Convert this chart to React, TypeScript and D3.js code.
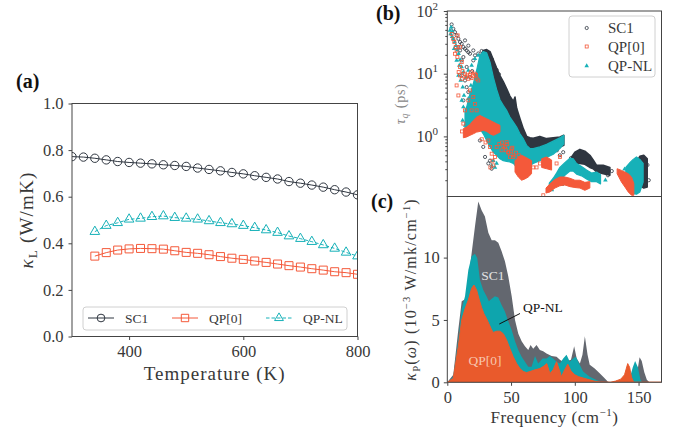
import React, { useEffect, useRef } from "react";
import * as d3 from "d3";

const SERIF = "'Liberation Serif', 'DejaVu Serif', serif";
const AXIS = "#444";
const INK = "#383838";
const DARK = "#2f3640";
const ORANGE = "#f4593a";
const TEAL = "#17b1b8";
const FILL_GRAY = "#63676f";
const FILL_TEAL = "#0ea5ad";
const FILL_ORANGE = "#e95a2c";

// ---------- (a) kappa_L vs temperature
const temperatures = [300, 320, 340, 360, 380, 400, 420, 440, 460, 480, 500, 520, 540, 560, 580, 600, 620, 640, 660, 680, 700, 720, 740, 760, 780, 800];
const qpTemperatures = [340, 360, 380, 400, 420, 440, 460, 480, 500, 520, 540, 560, 580, 600, 620, 640, 660, 680, 700, 720, 740, 760, 780, 800];
const sc1Kappa = [0.772, 0.770, 0.765, 0.758, 0.751, 0.747, 0.744, 0.741, 0.737, 0.734, 0.730, 0.723, 0.717, 0.711, 0.704, 0.698, 0.690, 0.683, 0.676, 0.665, 0.658, 0.650, 0.641, 0.630, 0.620, 0.608];
const qp0Kappa = [0.345, 0.360, 0.371, 0.376, 0.378, 0.377, 0.375, 0.368, 0.361, 0.357, 0.351, 0.343, 0.336, 0.331, 0.324, 0.318, 0.311, 0.304, 0.298, 0.291, 0.285, 0.278, 0.274, 0.267];
const qpnlKappa = [0.450, 0.476, 0.488, 0.503, 0.507, 0.514, 0.517, 0.510, 0.507, 0.503, 0.496, 0.488, 0.483, 0.476, 0.467, 0.457, 0.446, 0.431, 0.420, 0.407, 0.393, 0.378, 0.361, 0.345];
const kappaTicks = [0, 0.2, 0.4, 0.6, 0.8, 1.0];
const tempTicks = [400, 600, 800];
const seriesNames = ["SC1", "QP[0]", "QP-NL"];

// ---------- (b) lifetimes tau_q (ps) vs frequency (cm^-1)
// dense clouds: [freq, tauMin, tauMax]
const sc1BandMain = [[26.9, 6.9, 20.8], [28.2, 4.8, 23.5], [30.9, 3.75, 24.2], [33.5, 2.94, 22.5], [36.1, 2.3, 16.7], [38.7, 1.8, 12.3], [41.3, 1.41, 9.3], [43.9, 1.1, 7.5], [46.5, 0.98, 5.8], [49.1, 0.86, 4.4], [51.8, 0.76, 3.6], [53.1, 0.745, 4.24], [54.4, 0.72, 2.8], [57.0, 0.68, 1.91], [59.6, 0.64, 1.33], [62.2, 0.62, 1.0], [64.8, 0.62, 0.95], [67.4, 0.62, 0.93], [72.6, 0.64, 1.0], [77.9, 0.64, 0.92], [83.1, 0.64, 0.95], [88.3, 0.68, 0.98], [91.4, 0.72, 1.04]];
const sc1BandHump = [[97.5, 0.41, 0.47], [100.1, 0.37, 0.56], [104.0, 0.37, 0.62], [107.9, 0.36, 0.58], [111.8, 0.32, 0.5], [114.4, 0.305, 0.42], [117.1, 0.27, 0.345], [122.3, 0.254, 0.345], [127.5, 0.24, 0.32]];
const sc1BandHigh = [[147.8, 0.2, 0.37], [151.0, 0.166, 0.48], [154.1, 0.15, 0.5], [156.8, 0.156, 0.44]];
const qpnlBandMain = [[13.9, 1.25, 2.6], [15.2, 1.2, 2.94], [17.8, 1.25, 4.8], [20.4, 1.33, 6.9], [23.0, 1.41, 11.3], [25.6, 1.33, 19.6], [28.2, 1.1, 22.6], [30.9, 0.86, 21.5], [33.5, 0.68, 15.3], [36.1, 0.56, 8.8], [38.7, 0.5, 5.6], [41.3, 0.44, 3.85], [43.9, 0.41, 3.12], [46.5, 0.4, 2.6], [49.1, 0.39, 2.03], [51.8, 0.37, 1.69], [54.4, 0.32, 1.41], [57.0, 0.287, 1.1], [59.6, 0.305, 0.92], [62.2, 0.32, 0.72], [64.8, 0.345, 0.64], [67.4, 0.37, 0.64], [72.6, 0.41, 0.68], [77.9, 0.46, 0.745], [83.1, 0.52, 0.84], [88.3, 0.64, 0.95], [91.4, 0.76, 1.04]];
const qpnlBandMid = [[80.0, 0.15, 0.18], [83.1, 0.155, 0.215], [85.7, 0.175, 0.26], [88.3, 0.2, 0.32], [92.2, 0.24, 0.38], [96.2, 0.28, 0.45], [98.8, 0.28, 0.44], [101.4, 0.25, 0.37], [105.3, 0.235, 0.33], [109.2, 0.21, 0.29], [113.1, 0.19, 0.26], [117.1, 0.19, 0.27], [120.2, 0.175, 0.245]];
const qpnlBandHigh = [[140.0, 0.225, 0.32], [143.2, 0.156, 0.38], [145.8, 0.122, 0.43], [148.4, 0.12, 0.47], [151.0, 0.13, 0.43], [153.6, 0.187, 0.37]];
const qp0BandLow = [[12.6, 0.95, 1.33], [15.2, 0.98, 1.41], [17.8, 1.04, 1.55], [20.4, 1.1, 1.8], [23.0, 1.17, 2.03], [25.6, 1.2, 2.16], [28.2, 1.25, 2.03], [30.9, 1.2, 1.91], [33.5, 1.1, 1.8], [36.1, 1.04, 1.69], [38.7, 1.1, 1.59], [41.3, 1.17, 1.5]];
const qp0BandMid = [[53.1, 0.27, 0.41], [55.7, 0.225, 0.47], [58.3, 0.2, 0.5], [60.9, 0.21, 0.47], [63.5, 0.225, 0.44], [66.1, 0.254, 0.41]];
const qp0BandShelf = [[74.0, 0.32, 0.44], [77.9, 0.305, 0.47], [81.8, 0.29, 0.42]];
const qp0BandLowFreq = [[77.4, 0.125, 0.15], [80.5, 0.13, 0.175], [84.4, 0.15, 0.205], [88.3, 0.163, 0.225], [92.2, 0.168, 0.225], [96.2, 0.158, 0.215], [100.1, 0.153, 0.2], [104.0, 0.15, 0.2], [107.9, 0.138, 0.185], [111.8, 0.15, 0.19]];
const qp0BandHigh = [[133.2, 0.254, 0.305], [136.6, 0.187, 0.287], [139.3, 0.156, 0.27], [141.9, 0.13, 0.254], [144.5, 0.115, 0.225], [146.3, 0.115, 0.176]];

// sparse points: [freq, tau]
const sc1Points = [[3.4, 61], [4.7, 52], [6.0, 46], [7.3, 41], [8.7, 36], [10.0, 32], [11.3, 30], [12.6, 26.6], [13.9, 25], [15.2, 23.5], [16.5, 22], [17.8, 20.8], [10, 23.5], [12.6, 18.4], [15.2, 12.8], [11.3, 16.3], [8.7, 26.6], [13.9, 34], [16.5, 28], [20.4, 23.5], [21.7, 19.6], [20.4, 16.3], [11.3, 9.4], [13.9, 7.8], [15.2, 6.1], [16.5, 5.1], [12.6, 3.75], [17.8, 8.8], [19.1, 3.3], [21.7, 2.0], [24.3, 1.41], [25.6, 0.86], [28.2, 0.68], [29.6, 0.47], [32.2, 0.37], [34.8, 0.305], [33.5, 0.41], [38.7, 11.5], [40.5, 9.8], [42, 7.0], [35, 17], [24.3, 21], [26.9, 23], [88.3, 0.5], [90.9, 0.56], [86, 0.6], [97, 0.45], [126, 0.24], [129, 0.28], [158, 0.2], [157, 0.35], [22.5, 5.5], [24, 3.8], [26, 2.6], [23, 8], [19.5, 11], [30, 1.2], [32, 0.9]];
const qp0Points = [[3.4, 43], [4.7, 36], [5.5, 32], [6.6, 26.6], [7.3, 23.5], [6, 20.8], [7.9, 18.4], [10, 12.8], [8.9, 10.6], [10, 9.4], [7.3, 6.5], [8.7, 4.5], [11.3, 8.3], [13.9, 10], [15.2, 9.4], [17.8, 9.7], [20.4, 9.1], [23, 8.3], [16.5, 8.3], [21.7, 10], [24.3, 7.8], [17.8, 5.4], [20.4, 4.24], [21.7, 3.3], [16.5, 3.75], [23, 2.6], [13.9, 2.6], [19.1, 2.6], [32.2, 0.86], [33.5, 0.68], [34.8, 0.53], [35.4, 0.41], [33.8, 0.32], [36.1, 0.345], [37.4, 0.47], [38.7, 0.68], [40.8, 0.76], [42.6, 0.6], [45.2, 0.68], [47.8, 0.56], [46.5, 0.81], [50.4, 0.64], [51.8, 0.47], [49.1, 0.47], [70, 0.32], [72.6, 0.37], [67.4, 0.32], [85.7, 0.37], [88.3, 0.47], [75.3, 0.115], [8.1, 40.8], [10, 26.6], [11.3, 15.3], [12, 11], [14.5, 8.8], [19, 8.5], [22.5, 9.5], [18.5, 10.5], [12.6, 1.6], [11.5, 1.2], [27, 0.9], [30, 0.8], [44, 0.7], [46, 0.6], [48, 0.55], [50, 0.58], [52, 0.5], [54, 0.55], [56, 0.5], [43, 0.8], [47, 0.75], [51, 0.66]];
const qpnlPoints = [[2.1, 49], [2.6, 43], [3.7, 39], [4.7, 36], [5.8, 32], [6.8, 28], [7.9, 24], [8.9, 20.8], [5.3, 25], [7.3, 16.3], [9.4, 13.6], [10, 16.6], [11.3, 12.8], [12.6, 10.6], [8.7, 9.4], [10.5, 7.8], [12.1, 6.1], [13.1, 4.5], [11.3, 3.75], [12.6, 2.94], [14.7, 8.8], [16.5, 11.3], [19.1, 13.6], [21.7, 17.3], [24.3, 19.6], [36.1, 0.41], [37.4, 0.32], [34.8, 0.345], [38.7, 0.37], [3, 55], [4, 47], [14, 1.5], [12, 1.8], [16.5, 4], [18.5, 6.5], [82, 0.14], [90, 0.17], [124, 0.2], [139, 0.3]];
const tauExponents = [0, 1, 2];

// ---------- (c) spectral kappa_P(omega) (1e-3 W/mK/cm^-1) vs frequency
const sc1Spectrum = [[0, 0], [4.7, 0.6], [8.6, 4.2], [11.3, 6.5], [14.6, 6.7], [17.8, 9.3], [21.7, 12.5], [24.3, 14.5], [26.9, 13.8], [29.5, 13.3], [32.2, 12.0], [34.8, 11.4], [37.4, 11.4], [40.0, 11.2], [42.6, 10.5], [45.2, 9.7], [47.8, 8.5], [50.5, 6.9], [53.1, 5.0], [55.7, 3.9], [58.3, 3.3], [60.9, 2.9], [63.5, 2.6], [65.3, 3.0], [67.4, 2.7], [70, 3.0], [72.6, 2.6], [75.2, 2.5], [77.8, 2.3], [81.8, 2.1], [85.7, 2.05], [88.3, 1.8], [91.4, 1.6], [94, 1.7], [97, 1.8], [99.5, 2.9], [101.5, 1.9], [104, 1.5], [106, 2.2], [107.9, 3.7], [110, 2.2], [111.7, 1.4], [115.6, 1.1], [119.5, 0.72], [123.4, 0.32], [126, 0.05], [128, 0], [146.5, 0], [148.5, 0.5], [150.8, 2.0], [152.5, 1.7], [154.5, 0.8], [156.5, 0.2], [158.5, 0], [168, 0]];
const qpnlSpectrum = [[0, 0], [4.7, 0.45], [8.6, 3.4], [11.3, 5.9], [13.9, 6.9], [16.5, 9.0], [19.1, 10.1], [21.7, 10.3], [23.5, 9.96], [25.6, 8.2], [28.2, 7.4], [30.8, 6.9], [32.6, 6.5], [34.8, 6.7], [37.4, 6.9], [40, 6.8], [42.6, 6.2], [45.2, 5.67], [47.8, 4.9], [50.5, 4.2], [53.1, 3.3], [55.7, 2.6], [58.3, 2.05], [60.9, 1.65], [63.5, 1.25], [66.1, 1.25], [68.8, 2.1], [71.3, 1.5], [74.7, 1.9], [77.8, 1.9], [80.4, 2.1], [83, 1.9], [85.7, 1.65], [88.3, 1.5], [90.9, 1.9], [93.5, 2.2], [96.1, 1.65], [98.7, 1.9], [100.8, 2.05], [103.4, 1.5], [106.5, 0.86], [111.7, 0.45], [117, 0.19], [121, 0], [140.5, 0], [143, 0.3], [145.5, 1.2], [147.3, 1.7], [149.5, 1.2], [151.5, 0.2], [153, 0], [168, 0]];
const qp0Spectrum = [[0, 0], [4.7, 0.32], [8.6, 2.86], [11.3, 5.0], [13.9, 5.9], [16.5, 6.6], [19.1, 7.54], [20.9, 7.8], [23, 7.4], [25.1, 6.6], [26.9, 6.0], [28.7, 5.5], [30.8, 5.1], [32.6, 4.7], [34.8, 4.2], [36.1, 4.0], [38.7, 4.1], [41.3, 4.1], [43.9, 3.9], [46.5, 3.4], [49.1, 2.7], [51.7, 2.05], [54.4, 1.5], [57, 1.1], [59.6, 0.86], [62.2, 0.78], [64.8, 0.86], [68.8, 1.0], [72.6, 1.1], [75.8, 1.3], [78, 1.5], [80.5, 0.7], [83, 1.0], [85.7, 1.65], [87.5, 1.1], [89.6, 0.45], [92, 1.0], [94.5, 1.45], [97, 0.9], [100, 0.6], [103, 0.45], [108, 0.3], [115, 0.1], [120, 0.02], [125, 0], [128, 0], [132, 0.1], [136, 0.25], [139, 0.6], [141.5, 1.5], [143, 1.2], [144.5, 0.4], [146, 0.05], [147, 0], [168, 0]];
const freqTicks = [0, 50, 100, 150];
const spectrumTicks = [0, 5, 10];

function styleAxis(g, size) {
  g.select(".domain").remove();
  g.attr("font-family", SERIF).attr("font-size", size);
  g.selectAll(".tick line").attr("stroke", AXIS);
  g.selectAll(".tick text").attr("fill", INK);
}

function marker(kind, scale) {
  if (kind === "circle") return d3.symbol(d3.symbolCircle, 55 * scale)();
  if (kind === "square") return d3.symbol(d3.symbolSquare, 64 * scale)();
  return d3.symbol(d3.symbolTriangle, 40 * scale)();
}

function drawPanelA(svg) {
  const L = 72, R = 357.5, T = 103.5, B = 336.5;
  const x = d3.scaleLinear().domain([300, 800]).range([L, R]);
  const y = d3.scaleLinear().domain([0, 1]).range([B, T]);

  svg.append("clipPath").attr("id", "clipA").append("rect")
    .attr("x", L).attr("y", T).attr("width", R - L).attr("height", B - T);

  const series = [
    { t: temperatures, v: sc1Kappa, color: DARK, kind: "circle", dash: null },
    { t: qpTemperatures, v: qp0Kappa, color: ORANGE, kind: "square", dash: null },
    { t: qpTemperatures, v: qpnlKappa, color: TEAL, kind: "triangle", dash: "3.5,2" },
  ];

  const plot = svg.append("g").attr("clip-path", "url(#clipA)");
  series.forEach((s) => {
    const pts = s.t.map((t, i) => [t, s.v[i]]);
    plot.append("path").datum(pts)
      .attr("d", d3.line().x((d) => x(d[0])).y((d) => y(d[1])))
      .attr("fill", "none").attr("stroke", s.color).attr("stroke-width", 1)
      .attr("stroke-dasharray", s.dash);
    plot.selectAll(null).data(pts).enter().append("path")
      .attr("transform", (d) => `translate(${x(d[0])},${y(d[1])})`)
      .attr("d", marker(s.kind, 1))
      .attr("fill", "none").attr("stroke", s.color).attr("stroke-width", 1);
  });

  const ya = svg.append("g").attr("transform", `translate(${L},0)`)
    .call(d3.axisLeft(y).tickValues(kappaTicks).tickSize(3.5).tickPadding(5).tickFormat(d3.format(".1f")));
  styleAxis(ya, 16.5);
  const xa = svg.append("g").attr("transform", `translate(0,${B})`)
    .call(d3.axisBottom(x).tickValues(tempTicks).tickSize(3.5).tickPadding(5));
  styleAxis(xa, 16.5);

  svg.append("rect").attr("x", L).attr("y", T).attr("width", R - L).attr("height", B - T)
    .attr("fill", "none").attr("stroke", AXIS).attr("stroke-width", 1);

  // legend
  const lg = svg.append("g");
  lg.append("rect").attr("x", 83).attr("y", 307).attr("width", 264).attr("height", 23).attr("rx", 3)
    .attr("fill", "#fff").attr("fill-opacity", 0.8).attr("stroke", "#d0d0d0");
  const lx = [88, 172, 266];
  series.forEach((s, i) => {
    const cy = 318;
    lg.append("line").attr("x1", lx[i]).attr("x2", lx[i] + 26).attr("y1", cy).attr("y2", cy)
      .attr("stroke", s.color).attr("stroke-dasharray", s.dash);
    lg.append("path").attr("transform", `translate(${lx[i] + 13},${cy})`).attr("d", marker(s.kind, 0.85))
      .attr("fill", "none").attr("stroke", s.color);
    lg.append("text").attr("x", lx[i] + 37).attr("y", cy + 4.5).attr("font-family", SERIF)
      .attr("font-size", 13.5).attr("fill", INK).text(seriesNames[i]);
  });

  svg.append("text").attr("x", (L + R) / 2).attr("y", 380).attr("text-anchor", "middle")
    .attr("font-family", SERIF).attr("font-size", 19).attr("letter-spacing", 1).attr("fill", INK)
    .text("Temperature (K)");
  const yl = svg.append("text").attr("transform", `translate(33,${(T + B) / 2}) rotate(-90)`)
    .attr("text-anchor", "middle").attr("font-family", SERIF).attr("font-size", 19).attr("fill", INK)
    .attr("letter-spacing", 1.2);
  yl.append("tspan").attr("font-style", "italic").text("κ");
  yl.append("tspan").attr("font-size", 13).attr("dy", 4).text("L");
  yl.append("tspan").attr("dy", -4).text(" (W/mK)");

  svg.append("text").attr("x", 16).attr("y", 88).attr("font-family", SERIF).attr("font-weight", "bold")
    .attr("font-size", 20).attr("fill", "#111").text("(a)");
}

function drawPanelB(svg, x) {
  const L = 447.3, R = 661.5, T = 11, B = 196.5;
  const y = d3.scaleLog().domain([0.11, 100]).range([B, T]);

  svg.append("clipPath").attr("id", "clipB").append("rect")
    .attr("x", L).attr("y", T).attr("width", R - L).attr("height", B - T);
  const plot = svg.append("g").attr("clip-path", "url(#clipB)");

  const band = d3.area().x((d) => x(d[0])).y0((d) => y(d[1])).y1((d) => y(d[2]));
  const drawBands = (bands, color, edge) => {
    plot.selectAll(null).data(bands).enter().append("path").attr("d", band)
      .attr("fill", color).attr("stroke", color).attr("stroke-width", edge).attr("stroke-linejoin", "round");
  };

  drawBands([sc1BandMain, sc1BandHump, sc1BandHigh], DARK, 1.6);
  plot.selectAll(null).data(sc1Points).enter().append("circle")
    .attr("cx", (d) => x(d[0])).attr("cy", (d) => y(d[1])).attr("r", 1.6)
    .attr("fill", "none").attr("stroke", DARK).attr("stroke-width", 0.8);

  drawBands([qpnlBandMain, qpnlBandMid, qpnlBandHigh], TEAL, 1.2);
  plot.selectAll(null).data(qpnlPoints).enter().append("path")
    .attr("transform", (d) => `translate(${x(d[0])},${y(d[1])})`)
    .attr("d", d3.symbol(d3.symbolTriangle, 9)()).attr("fill", TEAL);

  drawBands([qp0BandLow, qp0BandMid, qp0BandShelf, qp0BandLowFreq, qp0BandHigh], ORANGE, 1);
  plot.selectAll(null).data(qp0Points).enter().append("rect")
    .attr("x", (d) => x(d[0]) - 1.5).attr("y", (d) => y(d[1]) - 1.5).attr("width", 3).attr("height", 3)
    .attr("fill", "none").attr("stroke", ORANGE).attr("stroke-width", 0.8);

  // y axis (log)
  const major = tauExponents.map((e) => Math.pow(10, e));
  const minor = y.ticks().filter((v) => !major.some((m) => Math.abs(m - v) < 1e-9));
  const ya = svg.append("g").attr("transform", `translate(${L},0)`)
    .call(d3.axisLeft(y).tickValues(major).tickSize(3.5).tickFormat(() => ""));
  styleAxis(ya, 16);
  const ym = svg.append("g").attr("transform", `translate(${L},0)`)
    .call(d3.axisLeft(y).tickValues(minor).tickSize(2).tickFormat(() => ""));
  styleAxis(ym, 16);
  tauExponents.forEach((e) => {
    const t = svg.append("text").attr("x", 438).attr("y", y(Math.pow(10, e)) + 5.5)
      .attr("text-anchor", "end").attr("font-family", SERIF).attr("font-size", 16).attr("fill", INK);
    t.append("tspan").text("10");
    t.append("tspan").attr("font-size", 11).attr("dy", -7).text(String(e));
  });

  svg.append("rect").attr("x", L).attr("y", T).attr("width", R - L).attr("height", B - T)
    .attr("fill", "none").attr("stroke", AXIS).attr("stroke-width", 1);

  // legend
  const lg = svg.append("g");
  lg.append("rect").attr("x", 569).attr("y", 16).attr("width", 86).attr("height", 61).attr("rx", 3)
    .attr("fill", "#fff").attr("fill-opacity", 0.8).attr("stroke", "#d0d0d0");
  const ly = [28, 46.5, 66];
  lg.append("circle").attr("cx", 586.7).attr("cy", ly[0]).attr("r", 1.6).attr("fill", "none")
    .attr("stroke", DARK).attr("stroke-width", 0.8);
  lg.append("rect").attr("x", 585.2).attr("y", ly[1] - 1.5).attr("width", 3).attr("height", 3)
    .attr("fill", "none").attr("stroke", ORANGE).attr("stroke-width", 0.8);
  lg.append("path").attr("transform", `translate(586.7,${ly[2]})`).attr("d", d3.symbol(d3.symbolTriangle, 9)())
    .attr("fill", TEAL);
  seriesNames.forEach((n, i) => {
    lg.append("text").attr("x", 608).attr("y", ly[i] + 5).attr("font-family", SERIF)
      .attr("font-size", 15).attr("fill", INK).text(n);
  });

  const yl = svg.append("text").attr("transform", `translate(405,${(T + B) / 2}) rotate(-90)`)
    .attr("text-anchor", "middle").attr("font-family", SERIF).attr("font-size", 14).attr("fill", "#888")
    .attr("letter-spacing", 0.8);
  yl.append("tspan").attr("font-style", "italic").text("τ");
  yl.append("tspan").attr("font-style", "italic").attr("font-size", 10).attr("dy", 3).text("q");
  yl.append("tspan").attr("dy", -3).text(" (ps)");

  svg.append("text").attr("x", 376).attr("y", 20).attr("font-family", SERIF).attr("font-weight", "bold")
    .attr("font-size", 20).attr("fill", "#111").text("(b)");
}

function drawPanelC(svg, x) {
  const L = 447.3, R = 661.5, T = 196.5, B = 382.3;
  const y = d3.scaleLinear().domain([0, 14.9]).range([B, T]);

  svg.append("clipPath").attr("id", "clipC").append("rect")
    .attr("x", L).attr("y", T).attr("width", R - L).attr("height", B - T);
  const plot = svg.append("g").attr("clip-path", "url(#clipC)");
  const area = d3.area().x((d) => x(d[0])).y0(y(0)).y1((d) => y(d[1]));

  plot.append("path").datum(sc1Spectrum).attr("d", area).attr("fill", FILL_GRAY);
  plot.append("path").datum(qpnlSpectrum).attr("d", area).attr("fill", FILL_TEAL);
  plot.append("path").datum(qp0Spectrum).attr("d", area).attr("fill", FILL_ORANGE)
    .attr("stroke", FILL_ORANGE).attr("stroke-width", 1);

  const xa = svg.append("g").attr("transform", `translate(0,${B})`)
    .call(d3.axisBottom(x).tickValues(freqTicks).tickSize(3.5).tickPadding(5));
  styleAxis(xa, 16.5);
  const ya = svg.append("g").attr("transform", `translate(${L},0)`)
    .call(d3.axisLeft(y).tickValues(spectrumTicks).tickSize(3.5).tickPadding(4));
  styleAxis(ya, 16.5);

  svg.append("rect").attr("x", L).attr("y", T).attr("width", R - L).attr("height", B - T)
    .attr("fill", "none").attr("stroke", AXIS).attr("stroke-width", 1);

  // in-plot labels
  svg.append("text").attr("x", 493).attr("y", 280).attr("text-anchor", "middle").attr("font-family", SERIF)
    .attr("font-size", 13.5).attr("fill", "#e2e2e2").text("SC1");
  svg.append("text").attr("x", 485).attr("y", 365).attr("text-anchor", "middle").attr("font-family", SERIF)
    .attr("font-size", 13.5).attr("fill", "#f7c6ae").text("QP[0]");
  svg.append("text").attr("x", 523).attr("y", 312).attr("font-family", SERIF)
    .attr("font-size", 13.5).attr("fill", "#111").text("QP-NL");
  svg.append("line").attr("x1", 499.3).attr("y1", 324).attr("x2", 520).attr("y2", 313.5)
    .attr("stroke", "#111").attr("stroke-width", 1);

  const xl = svg.append("text").attr("x", (L + R) / 2).attr("y", 423).attr("text-anchor", "middle")
    .attr("font-family", SERIF).attr("font-size", 17).attr("letter-spacing", 0.5).attr("fill", INK);
  xl.append("tspan").text("Frequency (cm");
  xl.append("tspan").attr("font-size", 11).attr("dy", -7).text("−1");
  xl.append("tspan").attr("dy", 7).text(")");

  const yl = svg.append("text").attr("transform", `translate(416,${(T + B) / 2}) rotate(-90)`)
    .attr("text-anchor", "middle").attr("font-family", SERIF).attr("font-size", 16).attr("fill", INK)
    .attr("letter-spacing", 1.2);
  yl.append("tspan").attr("font-style", "italic").text("κ");
  yl.append("tspan").attr("font-size", 10.5).attr("dy", 4).text("P");
  yl.append("tspan").attr("dy", -4).text("(");
  yl.append("tspan").attr("font-style", "italic").text("ω");
  yl.append("tspan").text(") (10");
  yl.append("tspan").attr("font-size", 10.5).attr("dy", -6).text("−3");
  yl.append("tspan").attr("dy", 6).text(" W/mk/cm");
  yl.append("tspan").attr("font-size", 10.5).attr("dy", -6).text("−1");
  yl.append("tspan").attr("dy", 6).text(")");

  svg.append("text").attr("x", 371).attr("y", 208).attr("font-family", SERIF).attr("font-weight", "bold")
    .attr("font-size", 20).attr("fill", "#111").text("(c)");
}

export default function App() {
  const ref = useRef(null);

  useEffect(() => {
    const svg = d3.select(ref.current);
    svg.selectAll("*").remove();
    const xFreq = d3.scaleLinear().domain([0, 168]).range([447.3, 661.5]);
    drawPanelA(svg);
    drawPanelB(svg, xFreq);
    drawPanelC(svg, xFreq);
  }, []);

  return (
    <svg ref={ref} width={680} height={437}
      style={{ position: "absolute", left: 0, top: 0, background: "#fff" }} />
  );
}
